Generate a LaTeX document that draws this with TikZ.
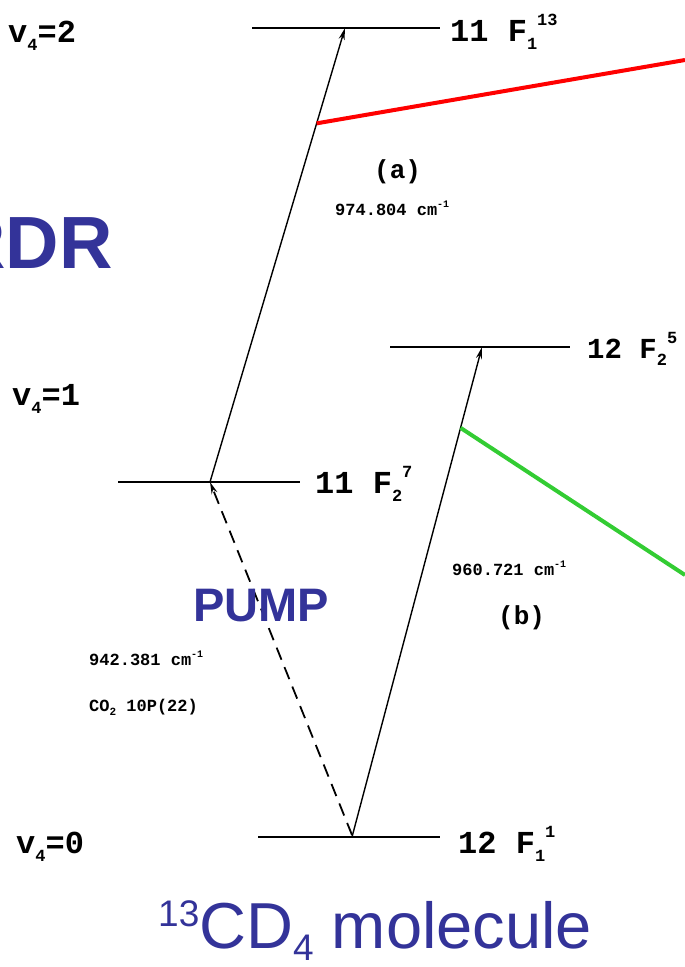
\documentclass[tikz,border=0pt]{standalone}
\usepackage{fontspec}
\setmainfont{Liberation Sans}
\newfontfamily\lvfont{Liberation Mono}
\usetikzlibrary{arrows.meta,calc}
\definecolor{slideblue}{RGB}{51,51,153}
\definecolor{rdrred}{RGB}{255,0,0}
\definecolor{rdrgreen}{RGB}{51,204,51}
\newcommand\lvsub[1]{\raisebox{-0.25em}{\fontsize{17}{17}\selectfont #1}}
\newcommand\lvsup[1]{\raisebox{0.5em}{\fontsize{17}{17}\selectfont #1}}
\newcommand\smsup[1]{\raisebox{0.45em}{\fontsize{10}{10}\selectfont #1}}
\begin{document}
\begin{tikzpicture}[x=1pt,y=-1pt,
  lvline/.style={line width=1.6pt},
  transarrow/.style={line width=1.4pt,-{Stealth[length=12pt,width=6pt]}},
  pumparrow/.style={line width=1.8pt,dash pattern=on 13pt off 8pt,-{Stealth[length=12pt,width=6pt]}},
  lvlabel/.style={font=\lvfont\bfseries\fontsize{32}{32}\selectfont,anchor=base west,inner sep=0pt},
  smlabel/.style={font=\lvfont\bfseries\fontsize{17}{17}\selectfont,anchor=base west,inner sep=0pt},
  letlabel/.style={font=\lvfont\bfseries\fontsize{26}{26}\selectfont,anchor=base west,inner sep=0pt},
  bluetext/.style={text=slideblue,inner sep=0pt},
  hiline/.style={line width=4pt}
]
\useasboundingbox (0,0) rectangle (685,967);

% energy levels
\coordinate (Ta) at (252,28);  \coordinate (Tb) at (440,28);
\coordinate (Ma) at (118,482); \coordinate (Mb) at (300,482);
\coordinate (Na) at (390,347); \coordinate (Nb) at (570,347);
\coordinate (Ga) at (258,837); \coordinate (Gb) at (440,837);
\draw[lvline] (Ta) -- (Tb);
\draw[lvline] (Ma) -- (Mb);
\draw[lvline] (Na) -- (Nb);
\draw[lvline] (Ga) -- (Gb);

% transition end points
\coordinate (Atop) at (345,28);
\coordinate (Abot) at (210,482);
\coordinate (Btop) at (482,347);
\coordinate (Bbot) at (352,837);
\coordinate (Pbot) at (352,835);

\draw[transarrow] (Abot) -- (Atop);
\draw[transarrow] (Bbot) -- (Btop);
\draw[pumparrow] (Pbot) -- (Abot);

% highlight lines
\coordinate (Rs) at ($(Abot)!0.79!(Atop)$);
\coordinate (Re) at (685,60);
\coordinate (Gs) at ($(Bbot)!0.835!(Btop)$);
\coordinate (Ge) at (685,575);
\draw[hiline,rdrred] (Rs) -- (Re);
\draw[hiline,rdrgreen] (Gs) -- (Ge);

% level labels
\node[lvlabel] (l13) at (450,41) {11 F\lvsub{1}\lvsup{13}};
\node[lvlabel] (l7) at (315,493) {11 F\lvsub{2}\lvsup{7}};
\node[lvlabel,font=\lvfont\bfseries\fontsize{29}{29}\selectfont] (l5) at (587,358) {12 F\lvsub{2}\lvsup{5}};
\node[lvlabel] (l1) at (458,853) {12 F\lvsub{1}\lvsup{1}};

\node[lvlabel] (v2) at (8,42) {v\lvsub{4}=2};
\node[lvlabel] (v1) at (12,405) {v\lvsub{4}=1};
\node[lvlabel] (v0) at (16,853) {v\lvsub{4}=0};

% transition labels
\node[letlabel] (la) at (374,178) {(a)};
\node[smlabel] (fa) at (335,215) {974.804 cm\smsup{-1}};
\node[smlabel] (fb) at (452,575) {960.721 cm\smsup{-1}};
\node[letlabel] (lb) at (498,624) {(b)};
\node[smlabel] (fp) at (89,665) {942.381 cm\smsup{-1}};
\node[smlabel] (co) at (89,711) {CO\lvsub{\fontsize{11}{11}\selectfont 2} 10P(22)};

% blue slide texts
\begin{scope}
\clip (0,0) rectangle (685,967);
\node[bluetext,anchor=base east,font=\bfseries\fontsize{74}{74}\selectfont] (rdr) at (113,268) {RDR};
\end{scope}
\node[bluetext,anchor=base west,font=\bfseries\fontsize{47}{47}\selectfont] (pump) at (193,621) {PUMP};
\node[bluetext,anchor=base west,font=\fontsize{65}{65}\selectfont] (mol) at (158,948)
  {\raisebox{22pt}{\fontsize{37}{37}\selectfont 13}CD\raisebox{-12pt}{\fontsize{37}{37}\selectfont 4} molecule};
\end{tikzpicture}
\end{document}
